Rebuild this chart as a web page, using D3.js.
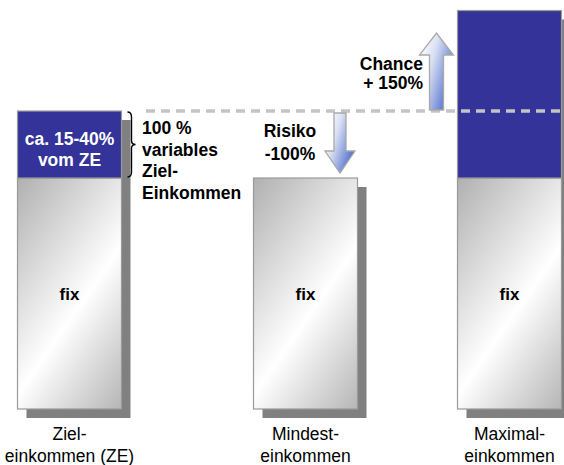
<!DOCTYPE html>
<html>
<head>
<meta charset="utf-8">
<script src="https://cdn.jsdelivr.net/npm/d3@7"></script>
<style>
  html, body { margin: 0; padding: 0; background: #fff; }
  svg { display: block; font-family: "Liberation Sans", Arial, sans-serif; }
</style>
</head>
<body>
<svg id="chart" width="564" height="465"></svg>
<script>
// Income components per scenario (fixed part = 100, variable part in the same units)
const categories = ["ZE", "Mindest", "Maximal"];
const categoryLabels = [["Ziel-", "einkommen (ZE)"], ["Mindest-", "einkommen"], ["Maximal-", "einkommen"]];
const fixValues = [100, 100, 100];
const variableValues = [29, 0, 72.5];           // target, -100 %, +150 %
const targetLevel = 129;                          // fix + target variable
const variableText = ["ca. 15-40%", "vom ZE"];
const braceText = ["100 %", "variables", "Ziel-", "Einkommen"];
const riskText = ["Risiko", "-100%"];
const chanceText = ["Chance", "+ 150%"];

const svg = d3.select("#chart");
const FONT = "'Liberation Sans', Arial, sans-serif";

const x = d3.scaleOrdinal().domain(categories).range([69.5, 305.5, 509.5]);
const barW = 104;
const y = d3.scaleLinear().domain([0, 100]).range([409, 178]);

const defs = svg.append("defs");
// diagonal sheen: grey top-left, white band, grey bottom-right
const g1 = defs.append("linearGradient").attr("id", "fixGrad")
  .attr("x1", 0).attr("y1", 0).attr("x2", 1).attr("y2", 1.54);
g1.append("stop").attr("offset", 0).attr("stop-color", "#b0b0b0");
g1.append("stop").attr("offset", 0.43).attr("stop-color", "#ffffff");
g1.append("stop").attr("offset", 0.76).attr("stop-color", "#b4b4b4");

const g2 = defs.append("linearGradient").attr("id", "arrowGrad")
  .attr("x1", 0).attr("y1", 0.2).attr("x2", 1).attr("y2", 0.8);
g2.append("stop").attr("offset", 0).attr("stop-color", "#ffffff");
g2.append("stop").attr("offset", 0.35).attr("stop-color", "#d9e0f2");
g2.append("stop").attr("offset", 1).attr("stop-color", "#3d5ec8");

const rows = categories.map((c, i) => ({
  c, fix: fixValues[i], v: variableValues[i], label: categoryLabels[i]
}));

// drop shadows
svg.append("g").selectAll("rect").data(rows).join("rect")
  .attr("x", d => x(d.c) - barW / 2 + 9)
  .attr("y", d => y(d.fix + d.v) + 9)
  .attr("width", barW)
  .attr("height", d => y(0) - y(d.fix + d.v))
  .attr("fill", "#808080");

// fixed part
svg.append("g").selectAll("rect").data(rows).join("rect")
  .attr("x", d => x(d.c) - barW / 2)
  .attr("y", d => y(d.fix))
  .attr("width", barW)
  .attr("height", d => y(0) - y(d.fix))
  .attr("fill", "url(#fixGrad)")
  .attr("stroke", "#9a9a9a").attr("stroke-width", 1.2);

// variable part
svg.append("g").selectAll("rect").data(rows.filter(d => d.v > 0)).join("rect")
  .attr("x", d => x(d.c) - barW / 2)
  .attr("y", d => y(d.fix + d.v))
  .attr("width", barW)
  .attr("height", d => y(d.fix) - y(d.fix + d.v))
  .attr("fill", "#333399")
  .attr("stroke", "#9a9a9a").attr("stroke-width", 1.2);

// "fix" labels
svg.append("g").selectAll("text").data(rows).join("text")
  .attr("x", d => x(d.c))
  .attr("y", d => (y(0) + y(d.fix)) / 2 + 6)
  .attr("text-anchor", "middle")
  .attr("font-family", FONT).attr("font-weight", "bold").attr("font-size", 17)
  .text("fix");

// category labels
const cl = svg.append("g").selectAll("text").data(rows).join("text")
  .attr("x", d => x(d.c))
  .attr("y", 440)
  .attr("text-anchor", "middle")
  .attr("font-family", FONT).attr("font-size", 17.5).attr("fill", "#000");
cl.selectAll("tspan").data(d => d.label.map(t => ({ t, cx: x(d.c) }))).join("tspan")
  .attr("x", d => d.cx).attr("dy", (d, i) => i === 0 ? 0 : 21.5)
  .text(d => d.t);

// target level line
svg.append("line")
  .attr("x1", 146).attr("x2", 564)
  .attr("y1", y(targetLevel)).attr("y2", y(targetLevel))
  .attr("stroke", "#c4c4c4").attr("stroke-width", 3.5)
  .attr("stroke-dasharray", "9,6");

// variable share label in the ZE bar
const ze = rows[0];
svg.append("text")
  .attr("x", x(ze.c)).attr("y", 145)
  .attr("text-anchor", "middle")
  .attr("font-family", FONT).attr("font-weight", "bold").attr("font-size", 17.5)
  .attr("fill", "#fff")
  .selectAll("tspan").data(variableText).join("tspan")
  .attr("x", x(ze.c)).attr("dy", (d, i) => i === 0 ? 0 : 21)
  .text(d => d);

// curly brace beside the variable part
const bx = x(ze.c) + barW / 2 + 6;
const bTop = y(ze.fix + ze.v) + 1, bBot = y(ze.fix) - 1, bMid = (bTop + bBot) / 2;
svg.append("path")
  .attr("d", `M${bx},${bTop} Q${bx + 4},${bTop} ${bx + 4},${bTop + 5}
              L${bx + 4},${bMid - 4} Q${bx + 4},${bMid} ${bx + 8},${bMid}
              Q${bx + 4},${bMid} ${bx + 4},${bMid + 4}
              L${bx + 4},${bBot - 5} Q${bx + 4},${bBot} ${bx},${bBot}`)
  .attr("fill", "none").attr("stroke", "#000").attr("stroke-width", 1.4);

svg.append("text")
  .attr("x", 142).attr("y", 134)
  .attr("font-family", FONT).attr("font-weight", "bold").attr("font-size", 17.5)
  .selectAll("tspan").data(braceText).join("tspan")
  .attr("x", 142).attr("dy", (d, i) => i === 0 ? 0 : 21.5)
  .text(d => d);

// arrows
function arrowPath(cx, y0, y1, shaftHalf, headHalf, headLen) {
  const dir = y1 > y0 ? 1 : -1;
  const hb = y1 - dir * headLen;
  return `M${cx - shaftHalf},${y0} L${cx - shaftHalf},${hb} L${cx - headHalf},${hb}
          L${cx},${y1} L${cx + headHalf},${hb} L${cx + shaftHalf},${hb}
          L${cx + shaftHalf},${y0} Z`;
}
const mid = rows[1];
svg.append("path")
  .attr("d", arrowPath(340, y(targetLevel) + 2, y(mid.fix) - 5, 6, 15, 22))
  .attr("fill", "url(#arrowGrad)").attr("stroke", "#a9a9a9").attr("stroke-width", 1.3);
svg.append("path")
  .attr("d", arrowPath(436.5, y(targetLevel) - 1, y(targetLevel) - 78, 7, 17, 22))
  .attr("fill", "url(#arrowGrad)").attr("stroke", "#a9a9a9").attr("stroke-width", 1.3);

svg.append("text")
  .attr("x", 290).attr("y", 137)
  .attr("text-anchor", "middle")
  .attr("font-family", FONT).attr("font-weight", "bold").attr("font-size", 17.5)
  .selectAll("tspan").data(riskText).join("tspan")
  .attr("x", 290).attr("dy", (d, i) => i === 0 ? 0 : 22.5)
  .text(d => d);

svg.append("text")
  .attr("x", 423).attr("y", 70)
  .attr("text-anchor", "end")
  .attr("font-family", FONT).attr("font-weight", "bold").attr("font-size", 17.5)
  .selectAll("tspan").data(chanceText).join("tspan")
  .attr("x", 423).attr("dy", (d, i) => i === 0 ? 0 : 18.5)
  .text(d => d);
</script>
</body>
</html>
